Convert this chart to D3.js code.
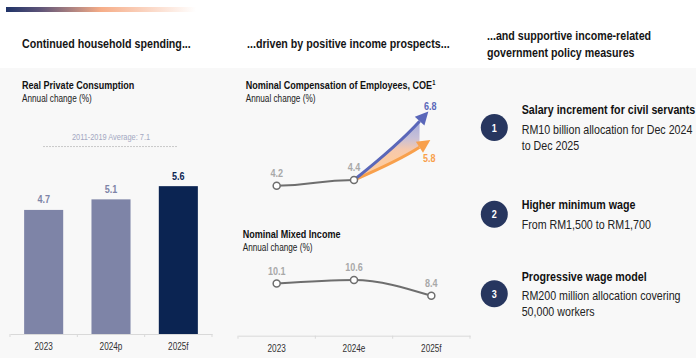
<!DOCTYPE html>
<html>
<head>
<meta charset="utf-8">
<script src="https://cdn.jsdelivr.net/npm/d3@7"></script>
<style>
  html, body { margin: 0; padding: 0; background: #ffffff; }
  svg { display: block; }
  text { font-family: 'Liberation Sans', Arial, sans-serif; }
</style>
</head>
<body>
<svg id="chart" width="696" height="358"></svg>
<script>
// ---- Data ----
const consumptionYears = ["2023", "2024p", "2025f"];
const consumptionValues = [4.7, 5.1, 5.6];
const consumptionAverage = 7.1;
const averageLabel = "2011-2019 Average: 7.1";

const incomeYears = ["2023", "2024e", "2025f"];
const coeValues = [4.2, 4.4];
const coeForecastHigh = 6.8;
const coeForecastLow = 5.8;
const mixedIncomeValues = [10.1, 10.6, 8.4];

const headings = [
  ["Continued household spending..."],
  ["...driven by positive income prospects..."],
  ["...and supportive income-related", "government policy measures"]
];
const policyTitles = ["Salary increment for civil servants", "Higher minimum wage", "Progressive wage model"];
const policyDetails = [
  ["RM10 billion allocation for Dec 2024", "to Dec 2025"],
  ["From RM1,500 to RM1,700"],
  ["RM200 million allocation covering", "50,000 workers"]
];

// ---- Drawing ----
const svg = d3.select("#chart");
const W = 696, H = 358;
const defs = svg.append("defs");

// header rule fading from navy through peach to white
const rule = defs.append("linearGradient").attr("id", "ruleGrad");
[[0, "#1f3368"], [0.18, "#5e5478"], [0.5, "#f6ad88"], [1, "#ffffff"]]
  .forEach(([o, c]) => rule.append("stop").attr("offset", o).attr("stop-color", c));
svg.append("rect").attr("x", 6).attr("y", 7).attr("width", 190).attr("height", 5).attr("fill", "url(#ruleGrad)");

// panel background
svg.append("rect").attr("x", 0).attr("y", 68).attr("width", W).attr("height", H - 68).attr("fill", "#f8f8f8");

// section headings
const headPos = [[22, 48], [247, 48], [487, 40]];
headings.forEach((lines, i) => {
  lines.forEach((t, j) => {
    svg.append("text").attr("x", headPos[i][0]).attr("y", headPos[i][1] + j * 17)
      .attr("font-size", 13).attr("font-weight", "bold").attr("fill", "#151515").text(t);
  });
});

function chartTitle(x, y, title, sup) {
  const t = svg.append("text").attr("x", x).attr("y", y).attr("font-size", 11)
    .attr("font-weight", "bold").attr("fill", "#111").text(title);
  if (sup) t.append("tspan").attr("font-size", 7).attr("dy", -4).text(sup);
  svg.append("text").attr("x", x).attr("y", y + 12.3).attr("font-size", 10)
    .attr("fill", "#222").text("Annual change (%)");
}

// ---- Real Private Consumption bars ----
chartTitle(22, 89.3, "Real Private Consumption");
const xBar = d3.scaleBand().domain(consumptionYears).range([10, 212]).paddingInner(0.42).paddingOuter(0.21);
const yBar = d3.scaleLinear().domain([0, 10]).range([334, 70]);

const avgY = yBar(consumptionAverage);
svg.append("line").attr("x1", 43).attr("x2", 178).attr("y1", avgY).attr("y2", avgY)
  .attr("stroke", "#c9c9c9").attr("stroke-width", 1).attr("stroke-dasharray", "2,1");
svg.append("text").attr("x", 111).attr("y", avgY - 6.5).attr("text-anchor", "middle")
  .attr("font-size", 9).attr("fill", "#a3a8c2").text(averageLabel);

const lastIdx = consumptionValues.length - 1;
const barColor = (d, i) => i === lastIdx ? "#0b2452" : "#7e84a7";
svg.append("g").selectAll("rect").data(consumptionValues).join("rect")
  .attr("x", (d, i) => xBar(consumptionYears[i]))
  .attr("width", xBar.bandwidth())
  .attr("y", d => yBar(d))
  .attr("height", d => yBar(0) - yBar(d))
  .attr("fill", barColor);
svg.append("g").selectAll("text").data(consumptionValues).join("text")
  .attr("x", (d, i) => xBar(consumptionYears[i]) + xBar.bandwidth() / 2)
  .attr("y", d => yBar(d) - 6.5)
  .attr("text-anchor", "middle").attr("font-size", 11).attr("font-weight", "bold")
  .attr("fill", barColor)
  .text(d => d.toFixed(1));

function drawAxis(scale, y) {
  const g = svg.append("g").attr("transform", `translate(0,${y})`)
    .call(d3.axisBottom(scale).tickSize(0).tickPadding(9));
  g.select(".domain").attr("stroke", "#d9d9d9");
  g.selectAll("text").attr("font-size", 10).attr("fill", "#333")
    .attr("font-family", "'Liberation Sans', Arial, sans-serif");
  // dividers between categories
  const r = scale.range(), n = scale.domain().length;
  const bounds = d3.range(n + 1).map(i => r[0] + i * (r[1] - r[0]) / n);
  g.selectAll("line.div").data(bounds).join("line").attr("class", "div")
    .attr("x1", d => d).attr("x2", d => d).attr("y1", 0).attr("y2", 3)
    .attr("stroke", "#d9d9d9");
}
drawAxis(xBar, 334);

// ---- Income panel ----
chartTitle(245.7, 89.3, "Nominal Compensation of Employees, COE", "1");
chartTitle(242.7, 238.3, "Nominal Mixed Income");

const xInc = d3.scalePoint().domain(incomeYears).range([238, 470]).padding(0.5);
const xBand = d3.scaleBand().domain(incomeYears).range([238, 470]);
const yCoe = d3.scaleLinear().domain([4, 7]).range([191.4, 105.9]);
const yMix = d3.scaleLinear().domain([8, 11]).range([298.7, 277.1]);

// COE forecast fan
const p0 = [xInc(incomeYears[1]), yCoe(coeValues[1])];
function fanArm(value, tipShift, color, lift) {
  const tip = [xInc(incomeYears[2]) - tipShift, yCoe(value)];
  const dx = tip[0] - p0[0], dy = p0[1] - tip[1];
  const c = [p0[0] + 0.6 * dx, p0[1] - lift * dy];
  const ux = tip[0] - c[0], uy = tip[1] - c[1], len = Math.hypot(ux, uy);
  const u = [ux / len, uy / len], n = [-u[1], u[0]];
  const L = 13, hw = 6.5;
  const base = [tip[0] - L * u[0], tip[1] - L * u[1]];
  return { tip, c, base, head: [tip, [base[0] + hw * n[0], base[1] + hw * n[1]], [base[0] - hw * n[0], base[1] - hw * n[1]]], color };
}
const armHigh = fanArm(coeForecastHigh, 3, "#5a67b9", 0.52);
const armLow = fanArm(coeForecastLow, 1, "#f8a04c", 0.5);

const fanGrad = defs.append("linearGradient").attr("id", "fanGrad")
  .attr("gradientUnits", "userSpaceOnUse").attr("x1", 0).attr("x2", 0)
  .attr("y1", armHigh.base[1]).attr("y2", armLow.base[1] + 12);
[[0, "#9ea5d8"], [0.45, "#c3bad3"], [0.75, "#f6c3a4"], [1, "#fcc698"]]
  .forEach(([o, c]) => fanGrad.append("stop").attr("offset", o).attr("stop-color", c));

const fan = d3.path();
fan.moveTo(p0[0], p0[1]);
fan.quadraticCurveTo(armHigh.c[0], armHigh.c[1], armHigh.base[0], armHigh.base[1]);
fan.lineTo(armLow.base[0], armLow.base[1]);
fan.quadraticCurveTo(armLow.c[0], armLow.c[1], p0[0], p0[1]);
fan.closePath();
svg.append("path").attr("d", fan.toString()).attr("fill", "url(#fanGrad)").attr("opacity", 0.9);

[armLow, armHigh].forEach(a => {
  const p = d3.path();
  p.moveTo(p0[0], p0[1]);
  p.quadraticCurveTo(a.c[0], a.c[1], a.base[0], a.base[1]);
  svg.append("path").attr("d", p.toString()).attr("fill", "none").attr("stroke", a.color).attr("stroke-width", 3);
  svg.append("path").attr("d", d3.line()(a.head) + "Z").attr("fill", a.color);
});
svg.append("text").attr("x", xInc(incomeYears[2]) - 1).attr("y", yCoe(coeForecastHigh) - 2)
  .attr("text-anchor", "middle").attr("font-size", 11).attr("font-weight", "bold").attr("fill", "#5a67b9")
  .text(coeForecastHigh.toFixed(1));
svg.append("text").attr("x", xInc(incomeYears[2]) - 2).attr("y", yCoe(coeForecastLow) + 22)
  .attr("text-anchor", "middle").attr("font-size", 11).attr("font-weight", "bold").attr("fill", "#f8a04c")
  .text(coeForecastLow.toFixed(1));

function series(values, yScale) {
  const pts = values.map((v, i) => [xInc(incomeYears[i]), yScale(v), v]);
  svg.append("path").attr("d", d3.line().curve(values.length > 2 ? d3.curveMonotoneX : d3.curveBumpX)(pts))
    .attr("fill", "none").attr("stroke", "#6e6e6e").attr("stroke-width", 2);
  svg.append("g").selectAll("circle").data(pts).join("circle")
    .attr("cx", d => d[0]).attr("cy", d => d[1]).attr("r", 3.5)
    .attr("fill", "#fff").attr("stroke", "#6e6e6e").attr("stroke-width", 1.5);
  svg.append("g").selectAll("text").data(pts).join("text")
    .attr("x", d => d[0]).attr("y", d => d[1] - 9)
    .attr("text-anchor", "middle").attr("font-size", 11).attr("font-weight", "bold").attr("fill", "#a8a8a8")
    .text(d => d[2].toFixed(1));
}
series(coeValues, yCoe);
series(mixedIncomeValues, yMix);
drawAxis(xBand, 335.7);

// ---- Policy measures ----
const badgeY = [127.5, 214.3, 293.7];
policyTitles.forEach((title, i) => {
  const cy = badgeY[i];
  svg.append("circle").attr("cx", 494.3).attr("cy", cy).attr("r", 13.5).attr("fill", "#27365f");
  svg.append("text").attr("x", 494.3).attr("y", cy + 4).attr("text-anchor", "middle")
    .attr("font-size", 11).attr("font-weight", "bold").attr("fill", "#fff").text(i + 1);
  const lines = policyDetails[i];
  const top = cy - (10.2 + 16 * (lines.length - 1)) / 2;
  svg.append("text").attr("x", 521.7).attr("y", top).attr("font-size", 13)
    .attr("font-weight", "bold").attr("fill", "#111").text(title);
  lines.forEach((t, j) => {
    svg.append("text").attr("x", 521.7).attr("y", top + 19.5 + 16 * j).attr("font-size", 13)
      .attr("fill", "#222").text(t);
  });
});

// narrow type: condense every label horizontally
svg.selectAll("text").each(function () {
  const len = this.getComputedTextLength();
  if (len > 0) {
    this.setAttribute("textLength", (len * 0.82).toFixed(2));
    this.setAttribute("lengthAdjust", "spacingAndGlyphs");
  }
});
</script>
</body>
</html>
